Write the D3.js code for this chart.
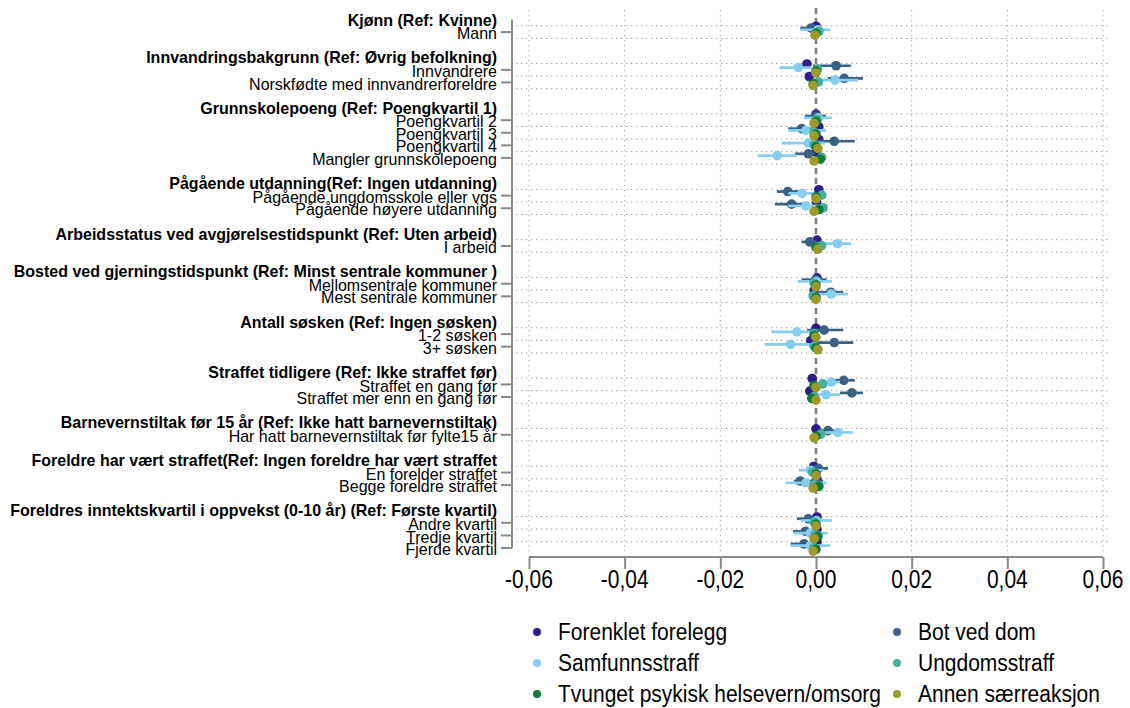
<!DOCTYPE html>
<html><head><meta charset="utf-8">
<script src="https://cdn.jsdelivr.net/npm/d3@7"></script>
<style>body{margin:0;background:#fff}svg{display:block;font-family:"Liberation Sans",Arial,sans-serif}</style>
</head><body><svg id="c" width="1130" height="708"></svg>
<script>
// ---- data ----
const groupLabels = [
 "Kjønn (Ref: Kvinne)",
 "Innvandringsbakgrunn (Ref: Øvrig befolkning)",
 "Grunnskolepoeng (Ref: Poengkvartil 1)",
 "Pågående utdanning(Ref: Ingen utdanning)",
 "Arbeidsstatus ved avgjørelsestidspunkt  (Ref: Uten arbeid)",
 "Bosted ved gjerningstidspunkt (Ref: Minst sentrale kommuner )",
 "Antall søsken (Ref: Ingen søsken)",
 "Straffet tidligere (Ref: Ikke straffet før)",
 "Barnevernstiltak før 15 år (Ref: Ikke hatt barnevernstiltak)",
 "Foreldre har vært straffet(Ref: Ingen foreldre har vært straffet",
 "Foreldres inntektskvartil i oppvekst (0-10 år) (Ref: Første kvartil)"
];
const coefLabels = [
 "Mann",
 "Innvandrere","Norskfødte med innvandrerforeldre",
 "Poengkvartil 2","Poengkvartil 3","Poengkvartil 4","Mangler grunnskolepoeng",
 "Pågående ungdomsskole eller vgs","Pågående høyere utdanning",
 "I arbeid",
 "Mellomsentrale kommuner","Mest sentrale kommuner",
 "1-2 søsken","3+ søsken",
 "Straffet en gang før","Straffet mer enn en gang før",
 "Har hatt barnevernstiltak før fylte15 år",
 "En forelder straffet","Begge foreldre straffet",
 "Andre kvartil","Tredje kvartil","Fjerde kvartil"
];
const coefGroup = [0,1,1,2,2,2,2,3,3,4,5,5,6,6,7,7,8,9,9,10,10,10];

const seriesNames = ["Forenklet forelegg","Bot ved dom","Samfunnsstraff","Ungdomsstraff","Tvunget psykisk helsevern/omsorg","Annen særreaksjon"];
const seriesColors = ["#2e1d8a","#3b6081","#87cdee","#45ae9d","#137a3a","#9c9a2c"];

const forenkletB  = [0.0000,-0.0019,-0.0014,0.0000,0.0006,0.0006,0.0000,0.0006,0.0001,0.0002,0.0002,-0.0004,0.0000,-0.0011,-0.0008,-0.0013,0.0000,-0.0005,0.0002,0.0002,0.0002,0.0002];
const forenkletLo = [-0.0004,-0.0023,-0.0018,-0.0004,0.0002,0.0002,-0.0004,0.0002,-0.0003,-0.0002,-0.0002,-0.0008,-0.0004,-0.0015,-0.0012,-0.0017,-0.0004,-0.0009,-0.0002,-0.0002,-0.0002,-0.0002];
const forenkletHi = [0.0004,-0.0015,-0.0010,0.0004,0.0010,0.0010,0.0004,0.0010,0.0005,0.0006,0.0006,0.0000,0.0004,-0.0007,-0.0004,-0.0009,0.0004,-0.0001,0.0006,0.0006,0.0006,0.0006];

const botB  = [-0.0010,0.0042,0.0059,0.0000,-0.0030,0.0038,-0.0016,-0.0059,-0.0051,-0.0013,0.0000,0.0031,0.0017,0.0038,0.0058,0.0075,0.0025,0.0005,-0.0033,-0.0016,-0.0022,-0.0025];
const botLo = [-0.0033,-0.0006,0.0025,-0.0023,-0.0058,-0.0001,-0.0044,-0.0082,-0.0086,-0.0030,-0.0030,0.0004,-0.0019,-0.0002,0.0033,0.0050,0.0008,-0.0019,-0.0046,-0.0040,-0.0048,-0.0053];
const botHi = [0.0013,0.0073,0.0098,0.0021,-0.0001,0.0081,-0.0002,-0.0033,-0.0019,0.0001,0.0022,0.0057,0.0057,0.0078,0.0081,0.0098,0.0043,0.0025,0.0015,0.0005,-0.0001,-0.0002];

const samfB  = [0.0004,-0.0037,0.0040,0.0005,-0.0021,-0.0016,-0.0081,-0.0029,-0.0021,0.0045,0.0001,0.0032,-0.0040,-0.0053,0.0032,0.0021,0.0046,-0.0011,-0.0021,0.0001,-0.0012,-0.0012];
const samfLo = [-0.0033,-0.0077,-0.0002,-0.0025,-0.0058,-0.0072,-0.0122,-0.0058,-0.0058,-0.0002,-0.0038,-0.0002,-0.0094,-0.0107,0.0015,-0.0002,0.0019,-0.0036,-0.0063,-0.0032,-0.0046,-0.0053];
const samfHi = [0.0030,-0.0009,0.0088,0.0033,0.0021,0.0019,-0.0040,-0.0002,0.0008,0.0073,0.0033,0.0067,-0.0006,-0.0006,0.0050,0.0050,0.0077,0.0015,0.0022,0.0033,0.0025,0.0030];

const ungdB  = [0.0006,0.0003,0.0005,0.0002,-0.0004,-0.0004,0.0012,0.0012,0.0015,0.0012,-0.0004,-0.0006,-0.0004,-0.0004,0.0014,-0.0004,0.0010,-0.0007,-0.0004,-0.0004,-0.0002,-0.0004];
const ungdLo = [0.0000,-0.0003,-0.0001,-0.0004,-0.0010,-0.0010,0.0006,0.0006,0.0009,0.0006,-0.0010,-0.0012,-0.0010,-0.0010,0.0008,-0.0010,0.0004,-0.0013,-0.0010,-0.0010,-0.0008,-0.0010];
const ungdHi = [0.0012,0.0009,0.0011,0.0008,0.0002,0.0002,0.0018,0.0018,0.0021,0.0018,0.0002,0.0000,0.0002,0.0002,0.0020,0.0002,0.0016,-0.0001,0.0002,0.0002,0.0004,0.0002];

const tvungetB  = [0.0000,0.0000,-0.0006,0.0000,0.0000,0.0000,0.0009,0.0000,0.0006,0.0000,0.0000,0.0000,-0.0004,0.0000,-0.0004,-0.0009,0.0000,0.0000,0.0006,0.0000,0.0004,0.0000];
const tvungetLo = [-0.0004,-0.0004,-0.0010,-0.0004,-0.0004,-0.0004,0.0005,-0.0004,0.0002,-0.0004,-0.0004,-0.0004,-0.0008,-0.0004,-0.0008,-0.0013,-0.0004,-0.0004,0.0002,-0.0004,0.0000,-0.0004];
const tvungetHi = [0.0004,0.0004,-0.0002,0.0004,0.0004,0.0004,0.0013,0.0004,0.0010,0.0004,0.0004,0.0004,0.0000,0.0004,0.0000,-0.0005,0.0004,0.0004,0.0010,0.0004,0.0008,0.0004];

const annenB  = [-0.0002,0.0000,-0.0006,-0.0004,-0.0004,0.0004,-0.0004,0.0000,-0.0004,0.0004,0.0000,0.0000,0.0000,0.0004,0.0000,0.0000,-0.0004,0.0000,-0.0006,0.0000,-0.0004,-0.0006];
const annenLo = [-0.0005,-0.0003,-0.0009,-0.0007,-0.0007,0.0001,-0.0007,-0.0003,-0.0007,0.0001,-0.0003,-0.0003,-0.0003,0.0001,-0.0003,-0.0003,-0.0007,-0.0003,-0.0009,-0.0003,-0.0007,-0.0009];
const annenHi = [0.0001,0.0003,-0.0003,-0.0001,-0.0001,0.0007,-0.0001,0.0003,-0.0001,0.0007,0.0003,0.0003,0.0003,0.0007,0.0003,0.0003,-0.0001,0.0003,-0.0003,0.0003,-0.0001,-0.0003];

const xTicks = [-0.06,-0.04,-0.02,0,0.02,0.04,0.06];

// ---- build ----
const series = [
 {b:forenkletB, lo:forenkletLo, hi:forenkletHi},
 {b:botB, lo:botLo, hi:botHi},
 {b:samfB, lo:samfLo, hi:samfHi},
 {b:ungdB, lo:ungdLo, hi:ungdHi},
 {b:tvungetB, lo:tvungetLo, hi:tvungetHi},
 {b:annenB, lo:annenLo, hi:annenHi}
];

// row positions (header occupies a row, blank row between groups)
const headerPos = [], coefPos = [];
let p = 0;
groupLabels.forEach((g, gi) => {
  headerPos.push(p);
  const rows = coefGroup.map((cg, i) => cg === gi ? i : -1).filter(i => i >= 0);
  rows.forEach((r, k) => { coefPos[r] = p + 1 + k; });
  p += rows.length + 2;
});
const maxPos = d3.max(coefPos);

const svg = d3.select("#c");
const FONT = '"Liberation Sans",Arial,sans-serif';
const x = d3.scaleLinear().domain([-0.06, 0.06]).range([529, 1103]);
const y = d3.scaleLinear().domain([0, maxPos]).range([19.5, 548]);
const axisY = 557;

function stext(parent, tx, ty, str, opts) {
  const g = parent.append("g").attr("transform", `translate(${tx},${ty}) scale(1,${opts.sy || 1})`);
  return g.append("text").attr("x", 0).attr("y", 0)
    .attr("text-anchor", opts.anchor || "start")
    .attr("dominant-baseline", "central")
    .style("font-size", opts.size + "px")
    .style("font-weight", opts.bold ? "bold" : "normal")
    .style("font-family", FONT)
    .attr("fill", "#000").text(str);
}

// gridlines: horizontal dotted between rows
const gridPos = [];
headerPos.forEach((hp, gi) => {
  const n = coefGroup.filter(c => c === gi).length;
  for (let k = 0; k <= n; k++) { const q = hp + k + 0.5; if (q < maxPos) gridPos.push(q); }
});
svg.append("g").selectAll("line").data(gridPos).join("line")
  .attr("x1", 516).attr("x2", 1110)
  .attr("y1", d => y(d)).attr("y2", d => y(d))
  .attr("stroke", "#999").attr("stroke-width", 1).attr("stroke-dasharray", "1.3,3.7");

// vertical dotted gridlines at ticks (except 0)
svg.append("g").selectAll("line").data(xTicks.filter(t => t !== 0)).join("line")
  .attr("x1", d => x(d)).attr("x2", d => x(d))
  .attr("y1", 10).attr("y2", axisY - 2)
  .attr("stroke", "#a8a8a8").attr("stroke-width", 1).attr("stroke-dasharray", "1.3,3.7");

// zero line
svg.append("line").attr("x1", x(0)).attr("x2", x(0)).attr("y1", 8).attr("y2", axisY)
  .attr("stroke", "#7f7f7f").attr("stroke-width", 2.6).attr("stroke-dasharray", "6,4");

// y axis
svg.append("line").attr("x1", 512).attr("x2", 512).attr("y1", y(0)).attr("y2", y(maxPos))
  .attr("stroke", "#8a8a8a").attr("stroke-width", 2);
svg.append("g").selectAll("line").data(coefPos).join("line")
  .attr("x1", 501).attr("x2", 512).attr("y1", d => y(d)).attr("y2", d => y(d))
  .attr("stroke", "#8a8a8a").attr("stroke-width", 2);

// y labels
const ylab = svg.append("g");
headerPos.forEach((hp, gi) => stext(ylab, 497, y(hp), groupLabels[gi], {size: 16, bold: true, anchor: "end", sy: 1.05}));
coefLabels.forEach((l, i) => stext(ylab, 497, y(coefPos[i]) + 1, l, {size: 16, anchor: "end", sy: 1.05}));

// x axis
const xa = svg.append("g").attr("transform", `translate(0,${axisY})`)
  .call(d3.axisBottom(x).tickValues(xTicks).tickSize(12).tickFormat(() => ""));
xa.select(".domain").attr("stroke", "#8a8a8a").attr("stroke-width", 2).attr("d", `M${x(-0.06)},0H${x(0.06)}`);
xa.selectAll(".tick line").attr("stroke", "#8a8a8a").attr("stroke-width", 2);
const fmt = v => d3.format(".2f")(v).replace(".", ",").replace("−", "-");
xTicks.forEach(t => stext(svg, x(t), 579, fmt(t), {size: 21, anchor: "middle", sy: 1.2}));

// data marks
const offsets = [-5.4, -3.6, -1.8, 0, 1.8, 3.6];
const marks = svg.append("g");
series.forEach((s, si) => {
  const g = marks.append("g");
  s.b.forEach((b, i) => {
    const yy = y(coefPos[i]) + offsets[si] - 0.5;
    g.append("line").attr("x1", x(s.lo[i])).attr("x2", x(s.hi[i])).attr("y1", yy).attr("y2", yy)
      .attr("stroke", seriesColors[si]).attr("stroke-width", 2.7);
    g.append("circle").attr("cx", x(b)).attr("cy", yy).attr("r", 4.8).attr("fill", seriesColors[si]);
  });
});

// legend
const leg = svg.append("g");
seriesNames.forEach((n, i) => {
  const col = i % 2, row = Math.floor(i / 2);
  const lx = col === 0 ? 537 : 897, ly = 632 + row * 31;
  leg.append("circle").attr("cx", lx).attr("cy", ly).attr("r", 4).attr("fill", seriesColors[i]);
  stext(leg, lx + 21, ly, n, {size: 21, sy: 1.15});
});
</script></body></html>
